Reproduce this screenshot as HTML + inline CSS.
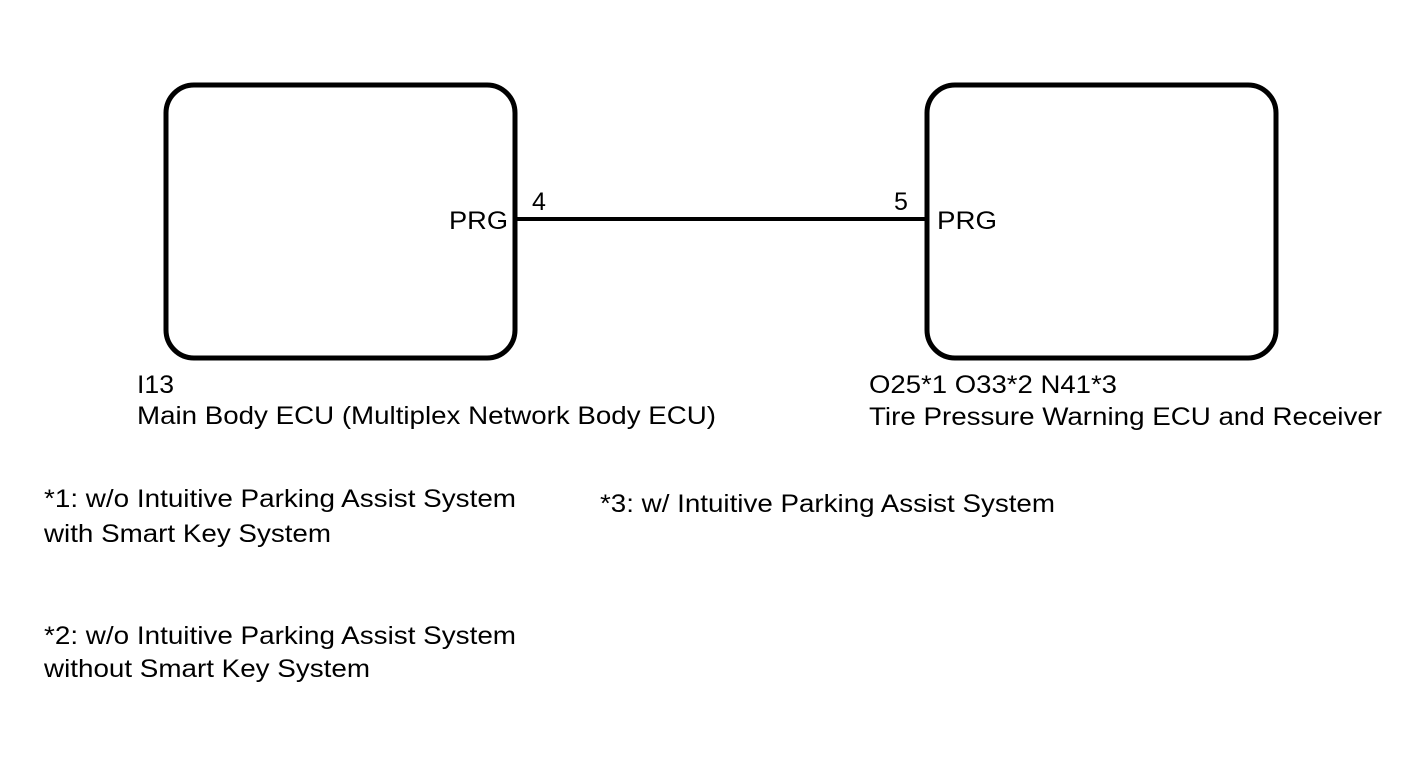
<!DOCTYPE html>
<html><head><meta charset="utf-8"><style>
html,body{margin:0;padding:0;background:#fff;}
svg{display:block;}
text{font-family:"Liberation Sans",Arial,sans-serif;font-size:25px;fill:#000;}
</style></head><body>
<svg width="1424" height="759" viewBox="0 0 1424 759" xmlns="http://www.w3.org/2000/svg">
<rect x="166" y="85" width="349" height="273" rx="28" ry="28" fill="none" stroke="#000" stroke-width="5"/>
<rect x="927" y="85" width="349" height="273" rx="28" ry="28" fill="none" stroke="#000" stroke-width="5"/>
<line x1="515" y1="219" x2="927" y2="219" stroke="#000" stroke-width="4"/>
<text x="449" y="229" textLength="59" lengthAdjust="spacingAndGlyphs">PRG</text>
<text x="532" y="210">4</text>
<text x="894" y="210">5</text>
<text x="937" y="229" textLength="60" lengthAdjust="spacingAndGlyphs">PRG</text>
<text x="137" y="393" textLength="37" lengthAdjust="spacingAndGlyphs">I13</text>
<text x="137" y="424" textLength="579" lengthAdjust="spacingAndGlyphs">Main Body ECU (Multiplex Network Body ECU)</text>
<text x="869" y="393" textLength="248" lengthAdjust="spacingAndGlyphs">O25*1 O33*2 N41*3</text>
<text x="869" y="425" textLength="513" lengthAdjust="spacingAndGlyphs">Tire Pressure Warning ECU and Receiver</text>
<text x="44" y="507" textLength="472" lengthAdjust="spacingAndGlyphs">*1: w/o Intuitive Parking Assist System</text>
<text x="44" y="542" textLength="287" lengthAdjust="spacingAndGlyphs">with Smart Key System</text>
<text x="600" y="512" textLength="455" lengthAdjust="spacingAndGlyphs">*3: w/ Intuitive Parking Assist System</text>
<text x="44" y="644" textLength="472" lengthAdjust="spacingAndGlyphs">*2: w/o Intuitive Parking Assist System</text>
<text x="44" y="677" textLength="326" lengthAdjust="spacingAndGlyphs">without Smart Key System</text>
</svg>
</body></html>
